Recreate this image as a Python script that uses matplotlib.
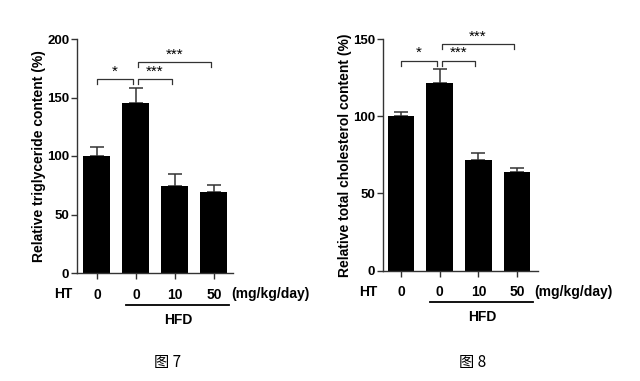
import matplotlib.pyplot as plt
import matplotlib.transforms as mtransforms

plt.rcParams['font.family'] = ['Liberation Sans', 'DejaVu Sans']

# data
groups = ['0', '0', '10', '50']
tg_mean = [100, 145, 74.5, 69.5]
tg_err = [8, 13.5, 10.5, 6]
tc_mean = [100, 121.3, 71.7, 63.7]
tc_err = [2.5, 9, 4.3, 2.6]
# (left bar, right bar, label) for each significance bracket
tg_sig = [(0, 1, '*'), (1, 2, '***'), (1, 3, '***')]
tc_sig = [(0, 1, '*'), (1, 2, '***'), (1, 3, '***')]


def bar_panel(ax, means, errs, sigs, ylim, yticks, ylabel, br_low, br_high, tip):
    x = list(range(len(means)))
    ax.bar(x, means, width=0.69, color='black', zorder=2)
    ax.errorbar(x, means, yerr=[[0] * len(errs), errs], fmt='none',
                ecolor='#333333', elinewidth=1.1, capsize=5, capthick=1.1, zorder=1)
    ax.set_ylim(*ylim)
    ax.set_yticks(yticks)
    ax.set_xticks(x)
    ax.set_xticklabels(groups, fontsize=10, fontweight='bold')
    ax.tick_params(axis='x', length=4, pad=6.5, width=1, color='#333333')
    ax.tick_params(axis='y', length=4, width=1, pad=1.5, color='#333333', labelsize=9.5)
    for lab in ax.get_yticklabels():
        lab.set_fontweight('bold')
    ax.set_ylabel(ylabel, fontsize=10, fontweight='bold', labelpad=1)
    for s in ['top', 'right']:
        ax.spines[s].set_visible(False)
    for s in ['left', 'bottom']:
        ax.spines[s].set_linewidth(1)
        ax.spines[s].set_color('#333333')

    # significance brackets
    for a, b, txt in sigs:
        y = br_high if b - a > 1 else br_low
        xa = a + 0.05 if a > 0 else a
        xb = b - 0.08 if b < 3 or a > 0 else b
        ax.plot([xa, xa, xb, xb], [y - tip, y, y, y - tip], color='#333333', lw=0.9,
                clip_on=False)
        ax.text((xa + xb) / 2, y + tip * 0.2, txt, ha='center', va='bottom', fontsize=11)

    # extra labels below the axis
    trans = mtransforms.blended_transform_factory(ax.transData, ax.transAxes)
    ax.text(-0.85, -0.09, 'HT', transform=trans, ha='center', va='center',
            fontsize=10, fontweight='bold')
    ax.text(3.45, -0.09, '(mg/kg/day)', transform=trans, ha='left', va='center',
            fontsize=10, fontweight='bold')
    ax.plot([0.75, 3.4], [-0.137, -0.137], transform=trans, color='black', lw=1.3,
            clip_on=False)
    ax.text(2.1, -0.2, 'HFD', transform=trans, ha='center', va='center',
            fontsize=10, fontweight='bold')


fig = plt.figure(figsize=(6.4, 3.81), dpi=100)

ax1 = fig.add_axes([77 / 640, 108 / 381, 156 / 640, 234 / 381])
ax1.set_xlim(-0.51, 3.49)
bar_panel(ax1, tg_mean, tg_err, tg_sig, (0, 200), [0, 50, 100, 150, 200],
          'Relative triglyceride content (%)', 165.5, 180, 4)

ax2 = fig.add_axes([383 / 640, 110.3 / 381, 155 / 640, 231.7 / 381])
ax2.set_xlim(-0.465, 3.54)
bar_panel(ax2, tc_mean, tc_err, tc_sig, (0, 150), [0, 50, 100, 150],
          'Relative total cholesterol content (%)', 135.8, 146.6, 3)

fig.text(168 / 640, 1 - 363 / 381, '图 7', ha='center', va='center', fontsize=11,
         family=['Noto Sans CJK SC', 'DejaVu Sans'])
fig.text(473 / 640, 1 - 363 / 381, '图 8', ha='center', va='center', fontsize=11,
         family=['Noto Sans CJK SC', 'DejaVu Sans'])

fig.savefig('out.png', dpi=100)
